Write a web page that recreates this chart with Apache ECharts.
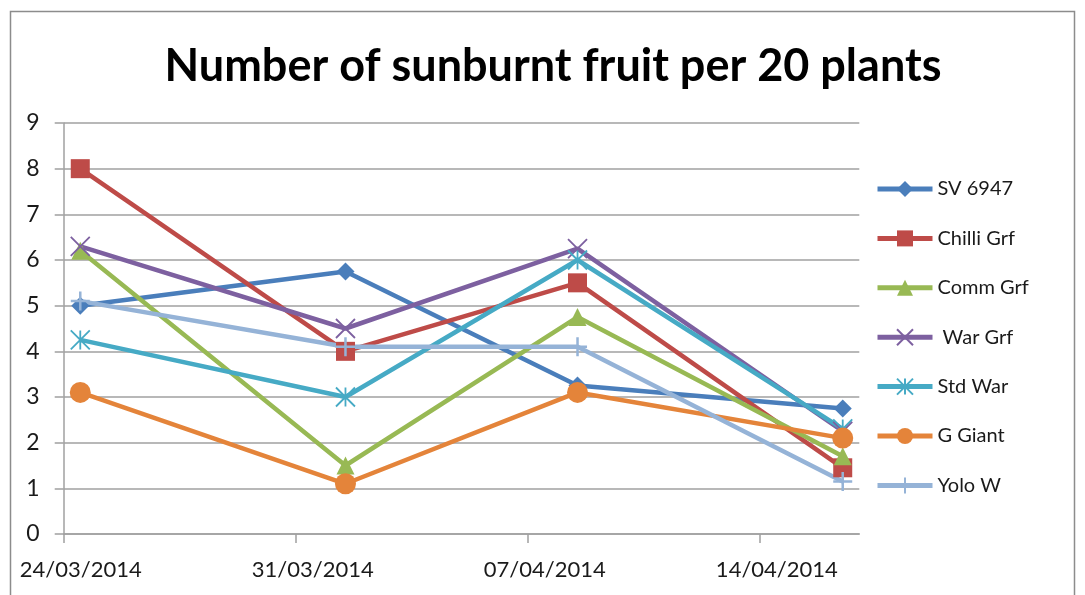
<!DOCTYPE html>
<html>
<head>
<meta charset="utf-8">
<script src="https://cdn.jsdelivr.net/npm/echarts@6/dist/echarts.min.js"></script>
<style>
html,body{margin:0;padding:0;background:#fff;}
#chart{width:1085px;height:595px;}
</style>
</head>
<body>
<div id="chart"></div>
<script>
// ---- Data ----
const sampleDates = ['24/03/2014', '01/04/2014', '08/04/2014', '16/04/2014'];
const tickLabels = ['24/03/2014', '31/03/2014', '07/04/2014', '14/04/2014'];
const axisEndDate = '17/04/2014';

const seriesNames = ['SV 6947', 'Chilli Grf', 'Comm Grf', ' War Grf', 'Std War', 'G Giant', 'Yolo W'];
const sv6947   = [5.0, 5.75, 3.25, 2.75];
const chilliGrf = [8.0, 4.0, 5.5, 1.45];
const commGrf  = [6.2, 1.5, 4.75, 1.7];
const warGrf   = [6.3, 4.5, 6.25, 2.25];
const stdWar   = [4.25, 3.0, 6.0, 2.3];
const gGiant   = [3.1, 1.1, 3.1, 2.1];
const yoloW    = [5.1, 4.1, 4.1, 1.15];

const seriesValues = [sv6947, chilliGrf, commGrf, warGrf, stdWar, gGiant, yoloW];
const seriesColors = ['#4A7EBB', '#BE4B48', '#98B954', '#7D60A0', '#46AAC5', '#E4843A', '#95B3D7'];
const seriesSymbols = [
  'diamond', 'rect', 'triangle',
  'path://M0,0L10,10M10,0L0,10',
  'path://M0,0L10,10M10,0L0,10M5,0L5,10',
  'circle',
  'path://M5,0L5,10M0,5L10,5'
];
const symbolSizes = [18, 19, 18, 19, 19, 21, 19];
const symbolStroke = [0, 0, 0, 1.8, 1.8, 0, 2.5];

// ---- helpers ----
function toDay(s) {
  const p = s.split('/').map(Number);
  return Date.UTC(p[2], p[1] - 1, p[0]) / 86400000;
}
const day0 = toDay(tickLabels[0]);
const axisMax = toDay(axisEndDate) - day0;
const tickValues = tickLabels.map(t => toDay(t) - day0);
// Excel date axis, points placed at the middle of their day
const xVals = sampleDates.map(d => toDay(d) - day0 + 0.5);
const labelByValue = {};
tickValues.forEach((v, i) => labelByValue[v] = tickLabels[i]);

const FONT = 'Lato';
const TXT = '#1a1a1a';

const series = seriesNames.map((name, i) => {
  const isPath = seriesSymbols[i].indexOf('path://') === 0;
  return {
    name: name,
    type: 'line',
    data: seriesValues[i].map((v, j) => [xVals[j], v]),
    symbol: seriesSymbols[i],
    symbolSize: symbolSizes[i],
    showAllSymbol: true,
    lineStyle: { color: seriesColors[i], width: 4.5 },
    itemStyle: isPath
      ? { color: seriesColors[i], borderColor: seriesColors[i], borderWidth: symbolStroke[i] }
      : { color: seriesColors[i], borderWidth: 0 },
    emphasis: { disabled: true },
    animation: false
  };
});

const chart = echarts.init(document.getElementById('chart'), null, { renderer: 'canvas' });
chart.setOption({
  backgroundColor: '#ffffff',
  animation: false,
  title: {
    text: 'Number of sunburnt fruit per 20 plants',
    left: 548,
    textAlign: 'center',
    top: 39,
    textStyle: { fontFamily: FONT, fontWeight: 'bold', fontSize: 45, color: '#000' }
  },
  graphic: [{
    type: 'rect',
    shape: { x: 10.5, y: 11.5, width: 1064, height: 620 },
    style: { fill: 'none', stroke: '#8c8c8c', lineWidth: 1.5 },
    silent: true
  }],
  legend: {
    orient: 'vertical',
    left: 875,
    top: 179,
    padding: 0,
    itemWidth: 55,
    itemHeight: 20,
    itemGap: 29.4,
    lineStyle: { width: 5 },
    textStyle: { fontFamily: FONT, fontSize: 20, color: TXT },
    data: seriesNames
  },
  grid: { left: 63.7, right: 225.7, top: 123, bottom: 61, containLabel: false },
  xAxis: {
    type: 'value',
    min: 0,
    max: axisMax,
    interval: 7,
    axisLine: { show: true, lineStyle: { color: '#a0a0a0', width: 1.5 } },
    axisTick: { show: true, length: 9, customValues: tickValues, lineStyle: { color: '#a0a0a0', width: 1.5 } },
    axisLabel: {
      customValues: tickValues,
      formatter: v => labelByValue[v] || '',
      fontFamily: FONT, fontSize: 22, color: TXT,
      margin: 25,
      padding: [0, 0, 0, 34]
    },
    splitLine: { show: false }
  },
  yAxis: {
    type: 'value',
    min: 0,
    max: 9,
    interval: 1,
    axisLine: { show: true, lineStyle: { color: '#a0a0a0', width: 1.5 } },
    axisTick: { show: true, length: 9, lineStyle: { color: '#a0a0a0', width: 1.5 } },
    axisLabel: { fontFamily: FONT, fontSize: 23, color: TXT, margin: 24 },
    splitLine: { show: true, lineStyle: { color: '#a0a0a0', width: 1.5 } }
  },
  series: series
});
</script>
</body>
</html>
